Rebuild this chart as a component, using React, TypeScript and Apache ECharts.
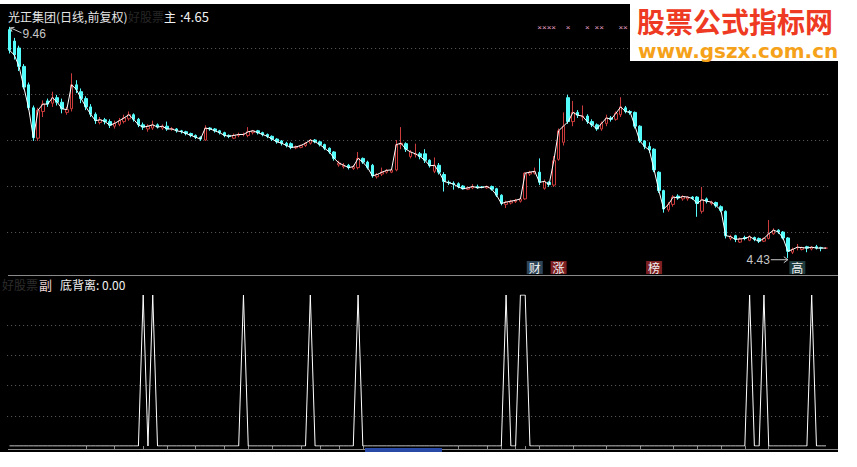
import React, { useEffect, useRef } from "react";
import * as echarts from "echarts";

// ---- data (daily bars, price in yuan) ----
const opens = [
  9.40, 9.15, 9.00, 8.60, 8.20, 7.70, 7.04, 7.62, 7.85, 7.80,
  7.92, 7.82, 7.60, 7.68, 8.20, 8.05, 7.90, 7.72, 7.56, 7.38,
  7.44, 7.40, 7.30, 7.34, 7.40, 7.46, 7.55, 7.45, 7.33, 7.24,
  7.26, 7.33, 7.26, 7.30, 7.24, 7.24, 7.20, 7.18, 7.14, 7.10,
  7.06, 7.00, 7.26, 7.24, 7.20, 7.16, 7.10, 7.04, 7.10, 7.12,
  7.10, 7.16, 7.20, 7.16, 7.12, 7.08, 7.02, 6.98, 6.93, 6.92,
  6.83, 6.84, 6.88, 6.93, 7.00, 6.96, 6.90, 6.82, 6.74, 6.46,
  6.42, 6.45, 6.38, 6.40, 6.60, 6.52, 6.45, 6.20, 6.26, 6.30,
  6.30, 6.35, 6.90, 6.92, 6.64, 6.68, 6.70, 6.70, 6.56, 6.32,
  6.45, 6.25, 6.08, 6.06, 6.05, 6.00, 5.93, 5.96, 5.99, 5.98,
  5.96, 5.99, 5.94, 5.80, 5.60, 5.63, 5.66, 5.67, 5.72, 6.26,
  6.28, 6.30, 5.95, 6.08, 6.02, 6.58, 6.95, 7.92, 7.40, 7.60,
  7.50, 7.52, 7.40, 7.33, 7.24, 7.36, 7.48, 7.45, 7.55, 7.70,
  7.62, 7.60, 7.30, 6.98, 6.86, 6.80, 6.30, 5.90, 5.48, 5.60,
  5.78, 5.72, 5.72, 5.76, 5.76, 5.45, 5.72, 5.62, 5.64, 5.55,
  5.45, 4.86, 4.92, 4.78, 4.88, 4.82, 4.88, 4.86, 4.80, 4.86,
  4.96, 5.04, 5.00, 4.87, 4.56, 4.66, 4.62, 4.68, 4.63, 4.68,
  4.66, 4.65,
];
const closes = [
  8.95, 8.85, 8.60, 8.15, 7.70, 7.05, 7.65, 7.78, 7.78, 7.92,
  7.82, 7.68, 7.66, 8.20, 8.10, 7.90, 7.72, 7.56, 7.42, 7.44,
  7.40, 7.32, 7.36, 7.42, 7.48, 7.55, 7.45, 7.33, 7.28, 7.30,
  7.33, 7.28, 7.30, 7.24, 7.24, 7.20, 7.18, 7.14, 7.10, 7.06,
  7.02, 7.26, 7.24, 7.20, 7.16, 7.10, 7.08, 7.10, 7.12, 7.12,
  7.18, 7.20, 7.16, 7.12, 7.08, 7.02, 6.96, 6.93, 6.88, 6.84,
  6.85, 6.88, 6.93, 7.00, 6.96, 6.90, 6.82, 6.74, 6.60, 6.50,
  6.45, 6.40, 6.42, 6.60, 6.52, 6.40, 6.22, 6.25, 6.30, 6.34,
  6.35, 6.90, 6.93, 6.80, 6.74, 6.70, 6.64, 6.56, 6.44, 6.45,
  6.30, 6.10, 6.07, 6.04, 5.98, 5.94, 5.96, 5.99, 5.96, 5.97,
  5.99, 5.93, 5.80, 5.62, 5.65, 5.67, 5.69, 5.72, 6.28, 6.30,
  6.32, 6.08, 6.10, 6.03, 6.55, 7.20, 7.30, 7.40, 7.60, 7.54,
  7.52, 7.40, 7.33, 7.24, 7.36, 7.48, 7.45, 7.58, 7.72, 7.62,
  7.60, 7.30, 6.98, 6.86, 6.78, 6.35, 5.90, 5.50, 5.60, 5.76,
  5.74, 5.77, 5.76, 5.73, 5.62, 5.70, 5.67, 5.65, 5.57, 5.47,
  4.92, 4.90, 4.84, 4.85, 4.86, 4.90, 4.84, 4.80, 4.86, 4.96,
  5.04, 5.00, 4.87, 4.58, 4.62, 4.67, 4.66, 4.65, 4.67, 4.65,
  4.65, 4.65,
];
const lows = [
  8.88, 8.75, 8.50, 8.10, 7.65, 6.98, 6.98, 7.50, 7.72, 7.72,
  7.75, 7.58, 7.55, 7.62, 8.02, 7.80, 7.65, 7.50, 7.35, 7.34,
  7.34, 7.26, 7.25, 7.30, 7.36, 7.42, 7.40, 7.28, 7.22, 7.18,
  7.22, 7.25, 7.22, 7.20, 7.20, 7.16, 7.14, 7.10, 7.06, 7.02,
  6.98, 6.98, 7.20, 7.16, 7.12, 7.06, 7.04, 7.02, 7.06, 7.08,
  7.06, 7.12, 7.12, 7.08, 7.04, 6.98, 6.92, 6.88, 6.84, 6.80,
  6.80, 6.82, 6.85, 6.90, 6.93, 6.86, 6.78, 6.70, 6.55, 6.42,
  6.38, 6.36, 6.35, 6.36, 6.48, 6.36, 6.18, 6.16, 6.22, 6.27,
  6.28, 6.32, 6.80, 6.74, 6.60, 6.62, 6.58, 6.50, 6.40, 6.28,
  6.25, 5.88, 6.02, 5.92, 5.95, 5.92, 5.91, 5.93, 5.94, 5.95,
  5.94, 5.90, 5.76, 5.58, 5.52, 5.60, 5.63, 5.64, 5.70, 6.22,
  6.25, 6.02, 5.92, 5.98, 5.98, 6.55, 6.88, 7.35, 7.30, 7.48,
  7.42, 7.35, 7.28, 7.20, 7.20, 7.30, 7.40, 7.42, 7.50, 7.58,
  7.55, 7.25, 6.94, 6.80, 6.72, 6.30, 5.85, 5.42, 5.44, 5.55,
  5.70, 5.68, 5.68, 5.70, 5.33, 5.40, 5.62, 5.58, 5.53, 5.43,
  4.86, 4.82, 4.78, 4.76, 4.82, 4.80, 4.80, 4.76, 4.78, 4.84,
  4.94, 4.96, 4.84, 4.43, 4.52, 4.60, 4.60, 4.56, 4.60, 4.62,
  4.58, 4.63,
];
const highs = [
  9.46, 9.22, 9.05, 8.65, 8.25, 7.75, 7.70, 7.86, 7.90, 8.05,
  7.98, 7.90, 7.72, 8.45, 8.30, 8.12, 7.95, 7.78, 7.60, 7.50,
  7.48, 7.45, 7.42, 7.48, 7.55, 7.62, 7.58, 7.48, 7.38, 7.34,
  7.42, 7.36, 7.34, 7.40, 7.28, 7.26, 7.22, 7.20, 7.16, 7.12,
  7.08, 7.32, 7.28, 7.26, 7.22, 7.18, 7.12, 7.14, 7.16, 7.16,
  7.28, 7.22, 7.22, 7.18, 7.14, 7.10, 7.04, 7.00, 6.96, 6.95,
  6.88, 6.90, 6.96, 7.02, 7.02, 6.98, 6.92, 6.84, 6.76, 6.55,
  6.50, 6.48, 6.46, 6.74, 6.62, 6.55, 6.48, 6.28, 6.40, 6.37,
  6.38, 7.00, 7.28, 6.95, 6.78, 6.92, 6.74, 6.80, 6.58, 6.62,
  6.50, 6.30, 6.12, 6.10, 6.08, 6.02, 5.99, 6.04, 6.03, 6.00,
  6.01, 6.01, 5.96, 5.82, 5.68, 5.70, 5.72, 5.74, 6.30, 6.33,
  6.40, 6.60, 6.14, 6.10, 6.65, 7.25, 7.60, 7.98, 7.85, 7.65,
  7.75, 7.56, 7.45, 7.36, 7.40, 7.55, 7.52, 7.62, 7.93, 7.74,
  7.65, 7.62, 7.32, 7.00, 6.95, 6.82, 6.32, 5.92, 5.65, 5.80,
  5.82, 5.80, 5.78, 5.78, 5.78, 5.98, 5.75, 5.68, 5.66, 5.58,
  5.47, 4.94, 4.94, 4.88, 4.92, 4.93, 4.90, 4.88, 4.88, 5.26,
  5.08, 5.06, 5.02, 4.89, 4.66, 4.74, 4.68, 4.70, 4.69, 4.72,
  4.68, 4.66,
];
// bars where the lower indicator (底背离) fires (value 1)
const signalDays = [28, 30, 49, 63, 73, 104, 107, 108, 155, 158, 168];
// bars carrying a tick mark on the bottom time axis
const axisTickDays = [16, 22, 28, 33, 39, 45, 50, 55, 61, 65, 69, 74, 94, 100, 103, 106, 108, 111, 118, 125, 132, 139, 144, 149, 154, 159];
// information-mine badges under the candles
const eventDays = [110, 115, 135, 165];
const eventTexts = ["财", "涨", "榜", "高"];
// small pink cross markers near the top (runs of consecutive bars)
const crossDays = [111, 112, 113, 114, 117, 121, 123, 124, 128, 129];
const stockTitle = "光正集团(日线,前复权)";
const mainName = "好股票主";
const subName = "好股票副";
const subLineName = "底背离";
const bannerTitle = "股票公式指标网";
const bannerUrl = "www.gszx.com.cn";

const CJK = '"Noto Sans CJK SC", "Noto Sans", sans-serif';
const LAT = '"Liberation Sans", Arial, sans-serif';
const eventBg = ["#2e4558", "#7e1f22", "#7e1f22", "#1f3c3e"];

function txt(x: number, y: number, text: string, fill: string, size: number, family: string, align = "left", weight = "normal") {
  return {
    type: "text",
    x,
    y,
    silent: true,
    z: 50,
    style: {
      text,
      fill,
      fontSize: size,
      fontFamily: family,
      fontWeight: weight,
      lineHeight: size,
      align,
      textAlign: align,
      verticalAlign: "middle",
      textVerticalAlign: "middle",
    },
  };
}

export default function App() {
  const ref = useRef<HTMLDivElement>(null);
  useEffect(() => {
    if (!ref.current) return;
    const chart = echarts.init(ref.current, null, { renderer: "svg" });
    const cats = closes.map((_, i) => String(i + 1));
    const candleData = opens.map((o, i) => [o, closes[i], lows[i], highs[i]]);
    const signal = closes.map((_, i) => (signalDays.includes(i) ? 1 : 0));
    const tickSet = new Set(axisTickDays);
    const dotted = { color: "#5e5e5e", type: [1, 3] as any, width: 1 };

    chart.setOption({
      animation: false,
      backgroundColor: "transparent",
      grid: [
        { left: 7.1, top: 2, width: 821.3, height: 276 },
        { left: 7.1, top: 295, width: 821.3, height: 151 },
      ],
      xAxis: [
        { type: "category", gridIndex: 0, data: cats, boundaryGap: true, show: false },
        {
          type: "category",
          gridIndex: 1,
          data: cats,
          boundaryGap: true,
          offset: 3,
          axisLine: { show: false },
          axisLabel: { show: false },
          splitLine: { show: false },
          axisTick: {
            show: true,
            alignWithLabel: true,
            length: 3,
            interval: (i: number) => tickSet.has(i),
            lineStyle: { color: "#8a8a8a" },
          },
        },
      ],
      yAxis: [
        {
          type: "value",
          gridIndex: 0,
          min: 4,
          max: 10,
          interval: 1,
          axisLine: { show: false },
          axisTick: { show: false },
          axisLabel: { show: false },
          splitLine: { show: true, showMinLine: false, showMaxLine: false, lineStyle: dotted },
        },
        {
          type: "value",
          gridIndex: 1,
          min: 0,
          max: 1,
          interval: 0.2,
          axisLine: { show: false },
          axisTick: { show: false },
          axisLabel: { show: false },
          splitLine: { show: true, showMinLine: false, showMaxLine: false, lineStyle: dotted },
        },
      ],
      series: [
        {
          type: "candlestick",
          name: mainName,
          xAxisIndex: 0,
          yAxisIndex: 0,
          data: candleData,
          barWidth: 3,
          itemStyle: {
            color: "#000",
            color0: "#54fcfc",
            borderColor: "#cc3c3c",
            borderColor0: "#54fcfc",
            borderWidth: 1,
          },
        },
        {
          type: "line",
          xAxisIndex: 0,
          yAxisIndex: 0,
          data: closes,
          symbol: "none",
          z: 5,
          lineStyle: { color: "#ffffff", width: 1 },
        },
        {
          type: "line",
          name: subLineName,
          xAxisIndex: 1,
          yAxisIndex: 1,
          data: signal,
          symbol: "none",
          lineStyle: { color: "#ffffff", width: 1 },
        },
      ],
    });

    const P = (i: number, v: number) => chart.convertToPixel({ gridIndex: 0 }, [i, v]) as number[];
    const hiVal = Math.max(...highs);
    const hiIdx = highs.indexOf(hiVal);
    const loVal = Math.min(...lows);
    const loIdx = lows.indexOf(loVal);
    const [hx, hy] = P(hiIdx, hiVal);
    const [lx, ly] = P(loIdx, loVal);
    const grey = "#c8c8c8";

    const els: any[] = [
      // panel separator and bottom time axis line
      { type: "line", silent: true, z: 40, shape: { x1: 8, y1: 275.5, x2: 838, y2: 275.5 }, style: { stroke: "#8a8a8a", lineWidth: 1 } },
      { type: "line", silent: true, z: 40, shape: { x1: 8, y1: 449.5, x2: 838, y2: 449.5 }, style: { stroke: "#8a8a8a", lineWidth: 1 } },
      { type: "rect", silent: true, z: 41, shape: { x: 365, y: 448, width: 77, height: 4 }, style: { fill: "#2a4aa8" } },
      // main header
      txt(8, 16, stockTitle, "#e6e6e6", 12, CJK),
      txt(128, 16, mainName.slice(0, 3), "#262626", 12, CJK),
      txt(164, 16, mainName.slice(3), "#f2f2f2", 12, CJK),
      txt(180, 16, ":" + closes[closes.length - 1].toFixed(2), "#f2f2f2", 13, CJK),
      // sub header
      txt(2, 284, subName.slice(0, 3), "#2c2c2c", 12, CJK),
      txt(39, 284, subName.slice(3), "#ead0d0", 13, CJK),
      txt(60, 284, subLineName + ": " + signal[signal.length - 1].toFixed(2), "#f0f0f0", 12, CJK),
      // highest price label
      { type: "polyline", silent: true, z: 45, shape: { points: [[hx + 1, hy + 1], [hx + 12, hy + 6]] }, style: { stroke: grey, lineWidth: 1, fill: null } },
      { type: "polyline", silent: true, z: 45, shape: { points: [[hx + 5, hy + 0.5], [hx + 1, hy + 1], [hx + 2.5, hy + 5]] }, style: { stroke: grey, lineWidth: 1, fill: null } },
      txt(hx + 13, hy + 7, hiVal.toFixed(2), grey, 12, LAT),
      // lowest price label
      { type: "line", silent: true, z: 45, shape: { x1: lx - 17, y1: ly + 1.5, x2: lx, y2: ly + 1.5 }, style: { stroke: grey, lineWidth: 1 } },
      { type: "polyline", silent: true, z: 45, shape: { points: [[lx - 4, ly - 1.5], [lx, ly + 1.5], [lx - 4, ly + 4.5]] }, style: { stroke: grey, lineWidth: 1, fill: null } },
      txt(lx - 18, ly + 1.5, loVal.toFixed(2), grey, 12, LAT, "right"),
    ];

    eventDays.forEach((d, k) => {
      const [ex] = P(d, 5);
      els.push({ type: "rect", silent: true, z: 45, shape: { x: ex - 8, y: 261, width: 16, height: 13 }, style: { fill: eventBg[k] } });
      els.push(txt(ex, 267.5, eventTexts[k], "#f2f2f2", 12, CJK, "center"));
    });

    // group consecutive cross days into one text per run
    const runs: number[][] = [];
    crossDays.forEach((d) => {
      const last = runs[runs.length - 1];
      if (last && d === last[last.length - 1] + 1) last.push(d);
      else runs.push([d]);
    });
    runs.forEach((r) => {
      const x0 = P(r[0], 5)[0];
      const x1 = P(r[r.length - 1], 5)[0];
      els.push(txt((x0 + x1) / 2, 27.5, "×".repeat(r.length), "#e8a2c6", 8, LAT, "center"));
    });

    // watermark banner
    els.push({ type: "rect", silent: true, z: 60, shape: { x: 630, y: 4, width: 227, height: 57 }, style: { fill: "#ffffff" } });
    els.push({ ...txt(637, 20.5, bannerTitle, "#ee3a22", 28, CJK, "left", "bold"), z: 61 });
    els.push({ ...txt(638, 51, bannerUrl, "#f5a21a", 20, '"DejaVu Sans", Verdana, sans-serif', "left", "bold"), z: 61 });

    chart.setOption({ graphic: els });
    return () => chart.dispose();
  }, []);

  return (
    <div style={{ position: "fixed", left: 0, top: 0, width: 857, height: 467, background: "#fff" }}>
      <div style={{ position: "absolute", left: 0, top: 4, width: 838, height: 448, background: "#000" }} />
      <div ref={ref} style={{ position: "absolute", left: 0, top: 0, width: 857, height: 467 }} />
    </div>
  );
}
